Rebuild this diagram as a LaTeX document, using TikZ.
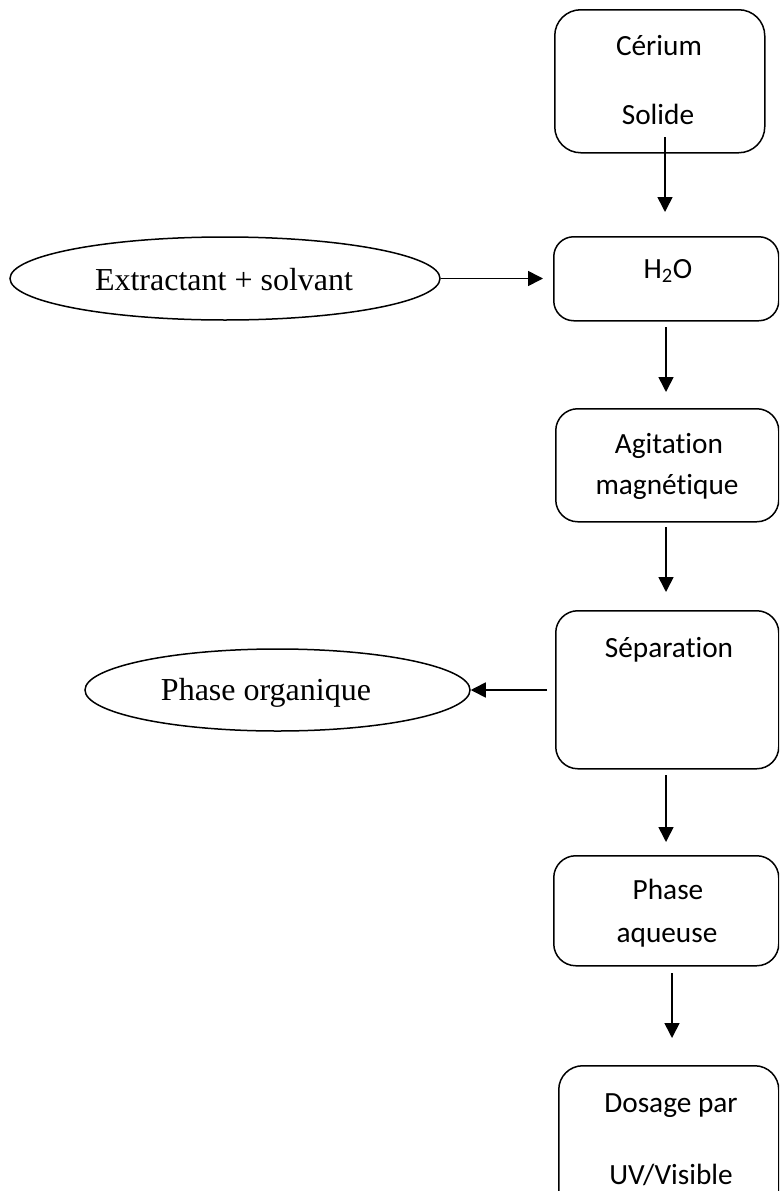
\documentclass[tikz,border=0pt]{standalone}
\usepackage{fontspec}
\setmainfont{Liberation Serif}
\newfontfamily\calib[RawFeature={-liga;-clig;-dlig;-calt}]{Carlito}
\usetikzlibrary{arrows.meta,shapes.geometric}
\tikzset{
  stepbox/.style={draw, line width=1.5pt, rounded corners=20pt, inner sep=0pt, anchor=north west},
  ovalnode/.style={draw, ellipse, line width=1.5pt, inner sep=0pt},
  boxtext/.style={font=\calib\fontsize{29.3}{35}\selectfont, anchor=base, inner sep=0pt},
  ovaltext/.style={font=\fontsize{32}{38}\selectfont, anchor=base, inner sep=0pt},
  arr/.style={line width=1.6pt, -{Triangle[width=15pt,length=15pt]}}
}
\begin{document}
\begin{tikzpicture}[x=1pt,y=-1pt]
\useasboundingbox (0,0) rectangle (779,1191);
\clip (0,0) rectangle (779,1191);
\fill[white] (0,0) rectangle (779,1191);
% boxes
\node[stepbox, rounded corners=26pt, minimum width=210pt, minimum height=143pt] (b1) at (554,9) {};
\node[stepbox, minimum width=225pt, minimum height=84pt] (b2) at (553,236) {};
\node[stepbox, rounded corners=22pt, minimum width=223pt, minimum height=113pt] (b3) at (555,408) {};
\node[stepbox, rounded corners=22pt, minimum width=223pt, minimum height=158pt] (b4) at (555,610) {};
\node[stepbox, rounded corners=22pt, minimum width=225pt, minimum height=110pt] (b5) at (553,855) {};
\node[stepbox, rounded corners=24pt, minimum width=220pt, minimum height=160pt] (b6) at (558,1065) {};
% box texts
\node[boxtext] (t1a) at (659,55) {Cérium};
\node[boxtext] (t1b) at (658,124) {Solide};
\node[boxtext] (t2) at (668,278) {H\textsubscript{2}O};
\node[boxtext] (t3a) at (669,453) {Agitation};
\node[boxtext] (t3b) at (667,494) {magnétique};
\node[boxtext] (t4) at (669,657) {Séparation};
\node[boxtext] (t5a) at (668,899) {Phase};
\node[boxtext] (t5b) at (667,942) {aqueuse};
\node[boxtext] (t6a) at (671,1112) {Dosage par};
\node[boxtext] (t6b) at (671,1184) {UV/Visible};
% ellipses
\node[ovalnode, minimum width=430pt, minimum height=83pt] (e1) at (225,278.5) {};
\node[ovaltext] (te1) at (224,290) {Extractant + solvant};
\node[ovalnode, minimum width=385pt, minimum height=82pt] (e2) at (277.5,690) {};
\node[ovaltext] (te2) at (266,700) {Phase organique};
% arrow end points
\coordinate (a1s) at (665,137); \coordinate (a1e) at (665,212);
\coordinate (a2s) at (666,327); \coordinate (a2e) at (666,392);
\coordinate (a3s) at (666,527); \coordinate (a3e) at (666,592);
\coordinate (a4s) at (666,775); \coordinate (a4e) at (666,842);
\coordinate (a5s) at (672,973); \coordinate (a5e) at (672,1038);
\coordinate (h1e) at (543,278.5);
\coordinate (h2s) at (547,690);
% arrows
\draw[arr] (a1s) -- (a1e);
\draw[arr] (a2s) -- (a2e);
\draw[arr] (a3s) -- (a3e);
\draw[arr] (a4s) -- (a4e);
\draw[arr] (a5s) -- (a5e);
\draw[arr] (e1.east) -- (h1e);
\draw[arr] (h2s) -- (e2.east);
\end{tikzpicture}
\end{document}
